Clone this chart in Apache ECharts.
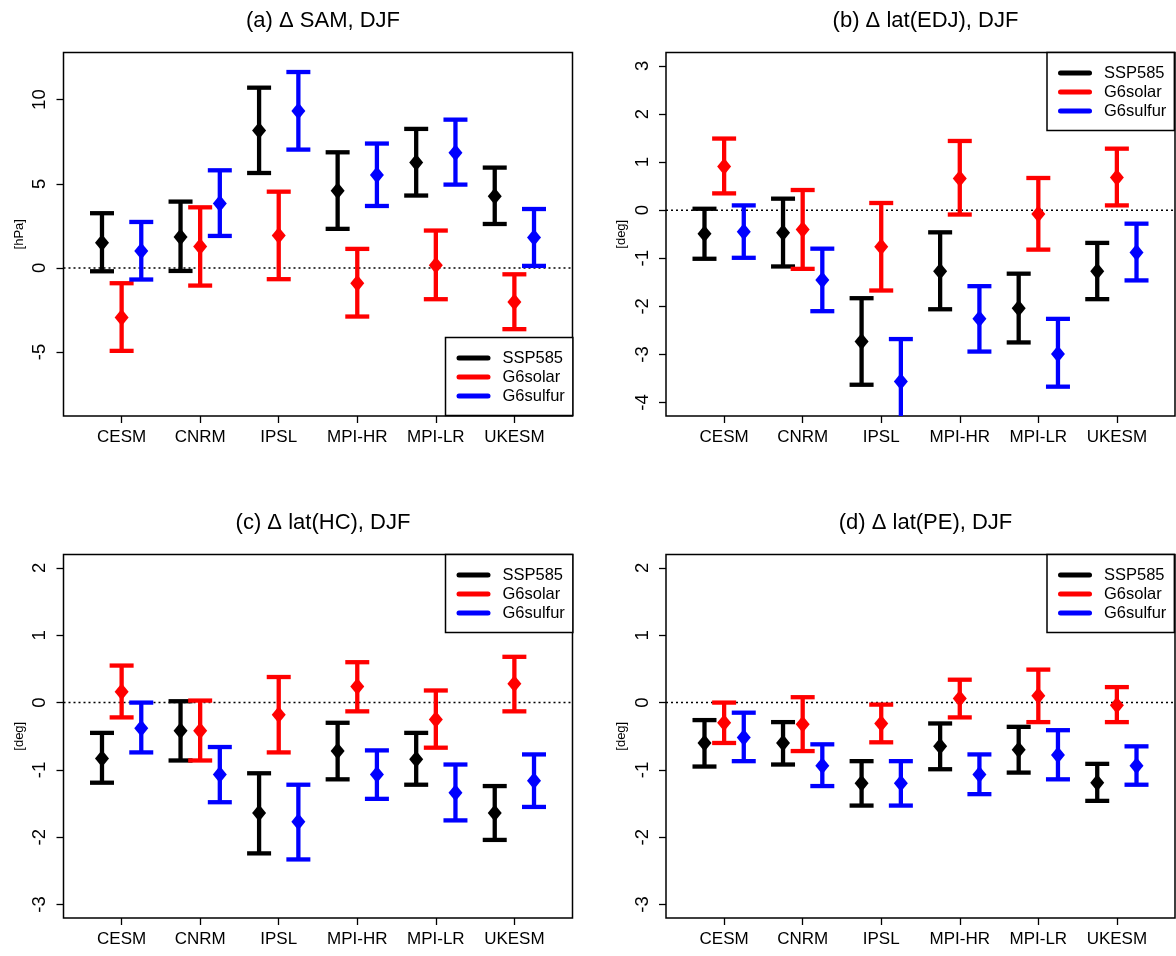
<!DOCTYPE html>
<html>
<head>
<meta charset="utf-8">
<script src="https://cdn.jsdelivr.net/npm/echarts@6/dist/echarts.min.js"></script>
<style>
html,body{margin:0;padding:0;background:#fff;}
#chart{width:1176px;height:956px;}
</style>
</head>
<body>
<div id="chart"></div>
<script>
// ---------------- data ----------------
const models = ['CESM', 'CNRM', 'IPSL', 'MPI-HR', 'MPI-LR', 'UKESM'];
const scenarios = ['SSP585', 'G6solar', 'G6sulfur'];
const panelTitles = ['(a) \u0394 SAM, DJF', '(b) \u0394 lat(EDJ), DJF', '(c) \u0394 lat(HC), DJF', '(d) \u0394 lat(PE), DJF'];
const panelUnits = ['[hPa]', '[deg]', '[deg]', '[deg]'];
const yLimits = [[-8, 12], [-4, 3], [-3, 2], [-3, 2]];
const yTicks = [[-5, 0, 5, 10], [-4, -3, -2, -1, 0, 1, 2, 3], [-3, -2, -1, 0, 1, 2], [-3, -2, -1, 0, 1, 2]];

// (a) SAM
const samSSP585Mean = [1.50, 1.84, 8.16, 4.59, 6.26, 4.26];
const samSSP585Lo   = [-0.20, -0.18, 5.64, 2.32, 4.30, 2.61];
const samSSP585Hi   = [3.25, 3.94, 10.71, 6.87, 8.26, 5.96];
const samSolarMean  = [-2.95, 1.27, 1.92, -0.91, 0.16, -2.02];
const samSolarLo    = [-4.93, -1.05, -0.67, -2.89, -1.86, -3.64];
const samSolarHi    = [-0.91, 3.60, 4.53, 1.13, 2.22, -0.38];
const samSulfurMean = [1.01, 3.82, 9.33, 5.52, 6.85, 1.80];
const samSulfurLo   = [-0.69, 1.90, 7.03, 3.68, 4.95, 0.12];
const samSulfurHi   = [2.73, 5.80, 11.64, 7.39, 8.81, 3.50];

// (b) EDJ
const edjSSP585Mean = [-0.49, -0.47, -2.73, -1.27, -2.04, -1.27];
const edjSSP585Lo   = [-1.01, -1.17, -3.63, -2.06, -2.75, -1.85];
const edjSSP585Hi   = [0.03, 0.24, -1.83, -0.46, -1.32, -0.68];
const edjSolarMean  = [0.91, -0.40, -0.76, 0.66, -0.08, 0.68];
const edjSolarLo    = [0.35, -1.22, -1.67, -0.09, -0.82, 0.10];
const edjSolarHi    = [1.49, 0.42, 0.15, 1.44, 0.67, 1.28];
const edjSulfurMean = [-0.45, -1.45, -3.56, -2.26, -2.99, -0.88];
const edjSulfurLo   = [-0.99, -2.10, -4.45, -2.94, -3.67, -1.46];
const edjSulfurHi   = [0.10, -0.80, -2.68, -1.58, -2.26, -0.28];

// (c) HC
const hcSSP585Mean = [-0.83, -0.42, -1.64, -0.72, -0.84, -1.64];
const hcSSP585Lo   = [-1.19, -0.86, -2.24, -1.14, -1.22, -2.04];
const hcSSP585Hi   = [-0.45, 0.02, -1.05, -0.30, -0.45, -1.24];
const hcSolarMean  = [0.16, -0.42, -0.18, 0.24, -0.25, 0.28];
const hcSolarLo    = [-0.22, -0.86, -0.74, -0.13, -0.67, -0.13];
const hcSolarHi    = [0.55, 0.03, 0.38, 0.60, 0.18, 0.68];
const hcSulfurMean = [-0.38, -1.07, -1.77, -1.07, -1.34, -1.16];
const hcSulfurLo   = [-0.74, -1.48, -2.33, -1.43, -1.75, -1.55];
const hcSulfurHi   = [0.00, -0.66, -1.22, -0.71, -0.92, -0.77];

// (d) PE
const peSSP585Mean = [-0.60, -0.60, -1.20, -0.65, -0.70, -1.19];
const peSSP585Lo   = [-0.95, -0.92, -1.53, -0.99, -1.04, -1.46];
const peSSP585Hi   = [-0.26, -0.29, -0.87, -0.31, -0.36, -0.91];
const peSolarMean  = [-0.30, -0.32, -0.31, 0.06, 0.10, -0.04];
const peSolarLo    = [-0.60, -0.72, -0.59, -0.22, -0.29, -0.29];
const peSolarHi    = [0.00, 0.08, -0.03, 0.34, 0.49, 0.23];
const peSulfurMean = [-0.52, -0.94, -1.20, -1.07, -0.78, -0.94];
const peSulfurLo   = [-0.87, -1.24, -1.53, -1.36, -1.14, -1.22];
const peSulfurHi   = [-0.15, -0.62, -0.87, -0.77, -0.41, -0.65];

// ---------------- assembly ----------------
const panelData = [
  [[samSSP585Mean, samSSP585Lo, samSSP585Hi], [samSolarMean, samSolarLo, samSolarHi], [samSulfurMean, samSulfurLo, samSulfurHi]],
  [[edjSSP585Mean, edjSSP585Lo, edjSSP585Hi], [edjSolarMean, edjSolarLo, edjSolarHi], [edjSulfurMean, edjSulfurLo, edjSulfurHi]],
  [[hcSSP585Mean, hcSSP585Lo, hcSSP585Hi], [hcSolarMean, hcSolarLo, hcSolarHi], [hcSulfurMean, hcSulfurLo, hcSulfurHi]],
  [[peSSP585Mean, peSSP585Lo, peSSP585Hi], [peSolarMean, peSolarLo, peSolarHi], [peSulfurMean, peSulfurLo, peSulfurHi]]
];
const colors = ['#000000', '#ff0000', '#0000ff'];
const offsets = [-0.25, 0, 0.25];
const xLim = [0.5, 6.5];
const ext = (lim) => { const r = lim[1] - lim[0]; return [lim[0] - 0.04 * r, lim[1] + 0.04 * r]; };
const xR = ext(xLim);

const FONT = 'Liberation Sans, Arial, Helvetica, sans-serif';
const grids = [
  {left: 63.5, top: 52.5, width: 509, height: 363.5},
  {left: 666, top: 52.5, width: 509, height: 363.5},
  {left: 63.5, top: 554.5, width: 509, height: 363.5},
  {left: 666, top: 554.5, width: 509, height: 363.5}
];
const legendPos = [
  {left: 445.5, top: 337.5},
  {left: 1047, top: 52.5},
  {left: 445.5, top: 554.5},
  {left: 1047, top: 554.5}
];

function renderItem(params, api) {
  const x = api.value(0), m = api.value(1), lo = api.value(2), hi = api.value(3);
  const cs = params.coordSys;
  const col = api.visual('color');
  const pm = api.coord([x, m]);
  const pl = api.coord([x, lo]);
  const ph = api.coord([x, hi]);
  const top = cs.y, bot = cs.y + cs.height;
  const yl = Math.min(pl[1], bot), yh = Math.max(ph[1], top);
  const st = {stroke: col, lineWidth: 4.3, lineCap: 'butt'};
  const capW = 12;
  const children = [
    {type: 'line', shape: {x1: pm[0], y1: yh, x2: pm[0], y2: yl}, style: st}
  ];
  if (pl[1] <= bot) children.push({type: 'line', shape: {x1: pm[0] - capW, y1: pl[1], x2: pm[0] + capW, y2: pl[1]}, style: st});
  if (ph[1] >= top) children.push({type: 'line', shape: {x1: pm[0] - capW, y1: ph[1], x2: pm[0] + capW, y2: ph[1]}, style: st});
  children.push({type: 'polygon', shape: {points: [[pm[0], pm[1] - 8.5], [pm[0] + 7, pm[1]], [pm[0], pm[1] + 8.5], [pm[0] - 7, pm[1]]]}, style: {fill: col}});
  return {type: 'group', children: children};
}

const option = {
  animation: false,
  backgroundColor: '#ffffff',
  textStyle: {fontFamily: FONT},
  title: [], grid: [], xAxis: [], yAxis: [], legend: [], series: []
};

for (let p = 0; p < 4; p++) {
  const g = grids[p];
  const yR = ext(yLimits[p]);
  option.grid.push(Object.assign({show: true, borderColor: '#000', borderWidth: 1.5, backgroundColor: 'transparent'}, g));
  option.title.push({
    text: panelTitles[p], left: g.left + g.width / 2, top: g.top - 48, textAlign: 'center',
    textStyle: {fontFamily: FONT, fontSize: 22, fontWeight: 'normal', color: '#000'}
  });
  option.xAxis.push({
    type: 'value', gridIndex: p, min: xR[0], max: xR[1],
    axisLine: {show: false, onZero: false},
    splitLine: {show: false},
    axisTick: {show: true, length: 7, customValues: [1, 2, 3, 4, 5, 6], lineStyle: {color: '#000', width: 1.3}},
    axisLabel: {show: true, customValues: [1, 2, 3, 4, 5, 6], margin: 13, fontSize: 17, color: '#000', fontFamily: FONT,
      formatter: (v) => models[Math.round(v) - 1]}
  });
  option.yAxis.push({
    type: 'value', gridIndex: p, min: yR[0], max: yR[1],
    name: panelUnits[p], nameLocation: 'middle', nameGap: 38, nameRotate: 90,
    nameTextStyle: {fontSize: 13, color: '#000', fontFamily: FONT},
    axisLine: {show: false, onZero: false},
    splitLine: {show: false},
    axisTick: {show: true, length: 7, customValues: yTicks[p], lineStyle: {color: '#000', width: 1.3}},
    axisLabel: {show: true, customValues: yTicks[p], rotate: 90, margin: 14, fontSize: 18.5, color: '#000', fontFamily: FONT}
  });
  option.legend.push({
    orient: 'vertical', left: legendPos[p].left, top: legendPos[p].top,
    data: scenarios,
    padding: [11, 8, 10, 11],
    itemGap: 0, itemWidth: 34, itemHeight: 5,
    icon: 'path://M2.5,0 L31.5,0 A2.5,2.5 0 0 1 31.5,5 L2.5,5 A2.5,2.5 0 0 1 2.5,0 Z',
    borderColor: '#000', borderWidth: 1.5, backgroundColor: '#fff',
    textStyle: {fontSize: 16.5, lineHeight: 19, color: '#000', fontFamily: FONT, padding: [0, 0, 0, 7]},
    selectedMode: false
  });
  // zero reference line
  option.series.push({
    type: 'line', xAxisIndex: p, yAxisIndex: p, data: [[xR[0], 0], [xR[1], 0]],
    symbol: 'none', silent: true, z: 1,
    lineStyle: {color: '#000', width: 1.5, type: [2, 3]}
  });
  for (let s = 0; s < 3; s++) {
    const [mean, lo, hi] = panelData[p][s];
    const data = models.map((_, i) => [i + 1 + offsets[s], mean[i], lo[i], hi[i]]);
    option.series.push({
      name: scenarios[s], type: 'custom', xAxisIndex: p, yAxisIndex: p,
      renderItem: renderItem, data: data, z: 3,
      itemStyle: {color: colors[s]},
      encode: {x: 0, y: [1, 2, 3]}
    });
  }
}

const chart = echarts.init(document.getElementById('chart'), null, {renderer: 'canvas'});
chart.setOption(option);
</script>
</body>
</html>
